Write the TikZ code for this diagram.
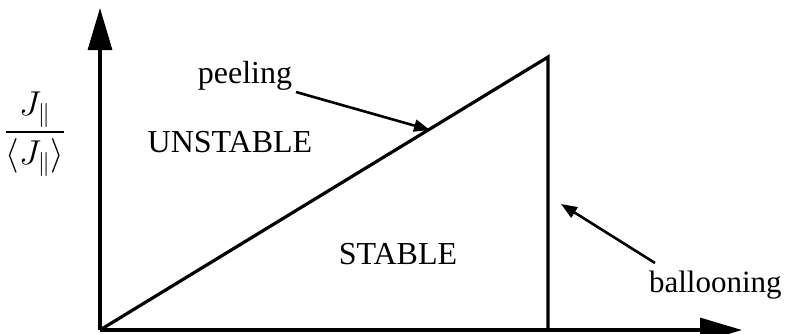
\documentclass[tikz,border=0pt]{standalone}
\usepackage{fontspec}
\usepackage{amsmath}
\setmainfont{Liberation Serif}
\usetikzlibrary{arrows.meta, positioning, calc}
\definecolor{mydark}{RGB}{0,0,0}
\tikzset{
  axis/.style={-{Triangle[length=21pt, width=12pt]}, line width=1.6pt, color=mydark},
  bound/.style={line width=1.6pt, color=mydark},
  pointer/.style={-{Triangle[length=8pt, width=6pt]}, line width=1.3pt, color=mydark},
  lbl/.style={inner sep=0pt, anchor=base, font=\fontsize{16}{19}\selectfont}
}
\begin{document}
\begin{tikzpicture}[x=0.5pt, y=-0.5pt]
  \useasboundingbox (0,0) rectangle (785,333);
  % axes
  \coordinate (O)    at (100,330);
  \coordinate (ytop) at (100,8);
  \coordinate (xend) at (742,330);
  \draw[axis] (O) -- (ytop);
  \draw[axis] (O) -- (xend);
  % stability boundary
  \coordinate (peak) at (548,57);
  \coordinate (foot) at (548,330);
  \draw[bound] (O) -- (peak) -- (foot);
  % regions
  \node[lbl] (unst) at (230,152) {UNSTABLE};
  \node[lbl] (stab) at (398,264) {STABLE};
  % y label
  \node[inner sep=0pt, font=\fontsize{17}{20}\selectfont] (ylab) at (35,134)
    {$\dfrac{J_{\|}}{\langle J_{\|}\rangle}$};
  % peeling
  \node[lbl] (peel) at (245,83) {peeling};
  \coordinate (peelfrom) at (296,92);
  \coordinate (peelto)   at (430,130);
  \draw[pointer] (peelfrom) -- (peelto);
  % ballooning
  \node[lbl, anchor=base east, font=\fontsize{15.5}{18}\selectfont] (ball) at (782,292) {ballooning};
  \coordinate (ballfrom) at (655,263);
  \coordinate (ballto)   at (561,204);
  \draw[pointer] (ballfrom) -- (ballto);
\end{tikzpicture}
\end{document}
